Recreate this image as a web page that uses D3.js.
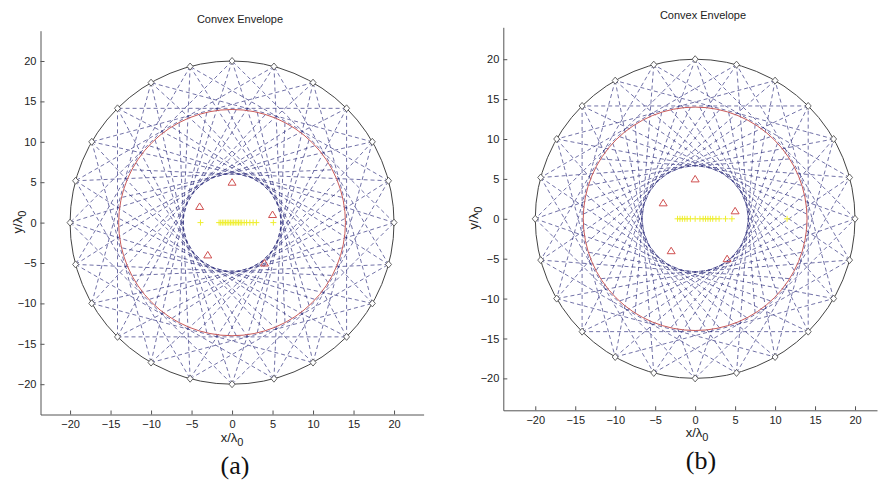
<!DOCTYPE html>
<html>
<head>
<meta charset="utf-8">
<script src="https://cdn.jsdelivr.net/npm/d3@7/dist/d3.min.js"></script>
<style>
  body { margin: 0; background: #fff; }
  svg { display: block; }
  .tick text { font-family: Arial, "Liberation Sans", sans-serif; font-size: 11px; fill: #222; }
  .tick line, .domain { stroke: #555; }
</style>
</head>
<body>
<svg id="chart" width="882" height="482"></svg>
<script>
'use strict';

// array element angles (deg), 24 transducers on the outer ring
var elementAngles = [0, 15, 30, 45, 60, 75, 90, 105, 120, 135, 150, 165,
                     180, 195, 210, 225, 240, 255, 270, 285, 300, 315, 330, 345];
var outerRadius = 20;      // black ring
var envelopeRadius = 14;   // red circle
var chordStep = 6;         // outer chords skip 6 elements (90 deg)

// inner envelope radius the rays are tangent to
var innerRadiusA = 6.0;
var innerRadiusB = 6.6;

// scatterers (red triangles), same in both panels
var targetX = [0, -4, 5, -3, 4];
var targetY = [5, 2, 1, -4, -5];

// yellow "+" points along y = 0
var pointsA = [-3.9, -1.6, -1.4, -1.2, -1.0, -0.8, -0.6, -0.4, -0.2, 0.0, 0.2, 0.4,
               0.6, 0.8, 1.0, 1.2, 1.5, 1.8, 2.2, 2.6, 3.0, 5.1];
var pointsB = [-2.2, -1.9, -1.6, -1.3, -1.0, -0.6, 0.0, 0.6, 1.0, 1.3, 1.6, 1.9,
               2.2, 2.6, 3.0, 3.8, 4.6, 11.5];

var tickValues = [-20, -15, -10, -5, 0, 5, 10, 15, 20];

var svg = d3.select('#chart');

function toXY(r, deg) {
	var a = deg * Math.PI / 180;
	return [r * Math.cos(a), r * Math.sin(a)];
}

// ray from element at angle deg, tangent to circle rIn, ending on the envelope circle
function rays(deg, rIn) {
	var out = [];
	var p = toXY(outerRadius, deg);
	var off = Math.acos(rIn / outerRadius) * 180 / Math.PI;
	[-1, 1].forEach(function(s) {
		var t = toXY(rIn, deg + s * off);
		var dx = t[0] - p[0], dy = t[1] - p[1];
		var len = Math.sqrt(dx * dx + dy * dy);
		dx /= len; dy /= len;
		// |p + k d|^2 = R^2
		var b = p[0] * dx + p[1] * dy;
		var c = outerRadius * outerRadius - envelopeRadius * envelopeRadius;
		var k = -b + Math.sqrt(b * b - c);
		out.push([p, [p[0] + k * dx, p[1] + k * dy]]);
	});
	return out;
}

function drawPanel(cfg) {
	var x = d3.scaleLinear().domain(cfg.xDomain).range(cfg.xRange);
	var y = d3.scaleLinear().domain(cfg.yDomain).range(cfg.yRange);
	var g = svg.append('g');

	g.append('text')
		.attr('x', cfg.titleX).attr('y', cfg.titleY)
		.attr('text-anchor', 'middle')
		.style('font-family', 'Arial, "Liberation Sans", sans-serif')
		.style('font-size', '11px').style('fill', '#222')
		.text('Convex Envelope');

	g.append('g')
		.attr('transform', 'translate(0,' + cfg.yRange[0] + ')')
		.call(d3.axisBottom(x).tickValues(tickValues).tickSize(-4).tickSizeOuter(0).tickPadding(6));
	g.append('g')
		.attr('transform', 'translate(' + cfg.xRange[0] + ',0)')
		.call(d3.axisLeft(y).tickValues(tickValues).tickSize(-4).tickSizeOuter(0).tickPadding(4));

	var line = d3.line().x(function(d) { return x(d[0]); }).y(function(d) { return y(d[1]); });

	// dashed lines
	var segs = [];
	elementAngles.forEach(function(a, i) {
		var b = elementAngles[(i + chordStep) % elementAngles.length];
		segs.push([toXY(outerRadius, a), toXY(outerRadius, b)]);
		segs = segs.concat(rays(a, cfg.innerRadius));
	});
	g.append('g').selectAll('path').data(segs).enter().append('path')
		.attr('d', line)
		.attr('fill', 'none')
		.attr('stroke', '#2c2c7c')
		.attr('stroke-opacity', 0.8)
		.attr('stroke-width', 0.85)
		.attr('stroke-dasharray', '4,3');

	// circles
	var cx = x(0), cy = y(0);
	g.append('ellipse')
		.attr('cx', cx).attr('cy', cy)
		.attr('rx', x(outerRadius) - cx).attr('ry', cy - y(outerRadius))
		.attr('fill', 'none').attr('stroke', '#444').attr('stroke-width', 1);
	g.append('ellipse')
		.attr('cx', cx).attr('cy', cy)
		.attr('rx', x(envelopeRadius) - cx).attr('ry', cy - y(envelopeRadius))
		.attr('fill', 'none').attr('stroke', '#c85a5a').attr('stroke-width', 1);

	// diamonds
	g.append('g').selectAll('path').data(elementAngles).enter().append('path')
		.attr('transform', function(d) {
			var p = toXY(outerRadius, d);
			return 'translate(' + x(p[0]) + ',' + y(p[1]) + ')';
		})
		.attr('d', 'M0,-3.5L3,0L0,3.5L-3,0Z')
		.attr('fill', '#fff').attr('stroke', '#555').attr('stroke-width', 0.9);

	// triangles
	g.append('g').selectAll('path').data(targetX).enter().append('path')
		.attr('transform', function(d, i) { return 'translate(' + x(d) + ',' + y(targetY[i]) + ')'; })
		.attr('d', 'M0,-3.5L4,3L-4,3Z')
		.attr('fill', 'none').attr('stroke', '#d05050').attr('stroke-width', 1);

	// plus markers
	g.append('g').selectAll('path').data(cfg.points).enter().append('path')
		.attr('transform', function(d) { return 'translate(' + x(d) + ',' + y(0) + ')'; })
		.attr('d', 'M-3,0H3M0,-3V3')
		.attr('stroke', '#eeee30').attr('stroke-width', 1);

	// axis labels
	var xl = g.append('text')
		.attr('x', cfg.xLabelX).attr('y', cfg.xLabelY)
		.attr('text-anchor', 'middle')
		.style('font-family', 'Arial, "Liberation Sans", sans-serif')
		.style('font-size', '13px').style('fill', '#222');
	xl.append('tspan').text('x/λ');
	xl.append('tspan').attr('dy', 4).style('font-size', '11px').text('0');

	var yl = g.append('text')
		.attr('transform', 'translate(' + cfg.yLabelX + ',' + cfg.yLabelY + ') rotate(-90)')
		.attr('text-anchor', 'middle')
		.style('font-family', 'Arial, "Liberation Sans", sans-serif')
		.style('font-size', '13px').style('fill', '#222');
	yl.append('tspan').text('y/λ');
	yl.append('tspan').attr('dy', 4).style('font-size', '11px').text('0');

	g.append('text')
		.attr('x', cfg.capX).attr('y', cfg.capY)
		.attr('text-anchor', 'middle')
		.style('font-family', '"Liberation Serif", "Times New Roman", serif')
		.style('font-size', '26px').style('fill', '#111')
		.text(cfg.caption);
}

drawPanel({
	xDomain: [-23.65, 23.65], xRange: [40.5, 423.6],
	yDomain: [-23.75, 23.75], yRange: [414.5, 30.7],
	innerRadius: innerRadiusA, points: pointsA,
	titleX: 240, titleY: 23,
	xLabelX: 232, xLabelY: 442, yLabelX: 22, yLabelY: 222,
	capX: 235, capY: 474, caption: '(a)'
});

drawPanel({
	xDomain: [-24, 22.75], xRange: [503.3, 877],
	yDomain: [-24, 24], yRange: [410.3, 27.3],
	innerRadius: innerRadiusB, points: pointsB,
	titleX: 703, titleY: 19,
	xLabelX: 697, xLabelY: 437, yLabelX: 478, yLabelY: 218,
	capX: 701, capY: 469, caption: '(b)'
});
</script>
</body>
</html>
